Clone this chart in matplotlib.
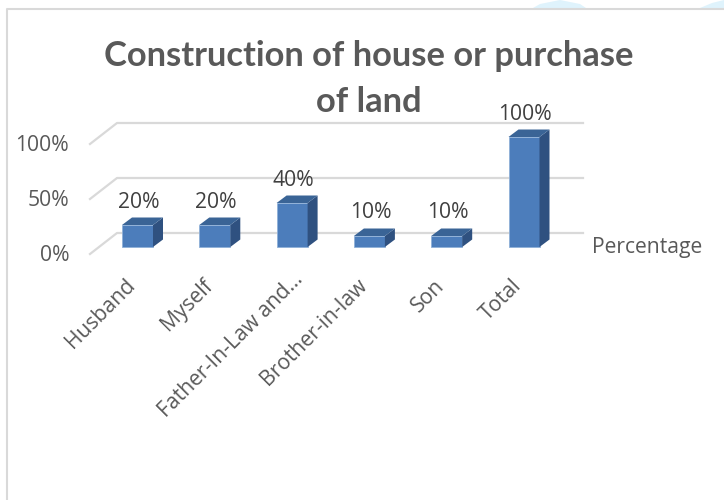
import matplotlib
matplotlib.use('Agg')
import matplotlib.pyplot as plt
import numpy as np

categories = ['Husband', 'Myself', 'Father-In-Law and…', 'Brother-in-law', 'Son', 'Total']
values = [20, 20, 40, 10, 10, 100]
y_ticks = [0, 50, 100]
series_name = 'Percentage'
title_lines = ['Construction of house or purchase', 'of land']

plt.rcParams['font.family'] = ['Open Sans', 'DejaVu Sans']

W, H = 724, 500
X0, STEP = 137.5, 77.3     # pixel x of first bar centre, pixels per category
Y0, SCALE = 247.0, 1.1     # pixel y of the 0% bar base, pixels per percent
FS = 15.2

fig = plt.figure(figsize=(W / 100, H / 100), dpi=100)
ax = fig.add_axes([0, 0, 1, 1])
ax.set_xlim(-X0 / STEP, (W - X0) / STEP)
ax.set_ylim((Y0 - H) / SCALE, Y0 / SCALE)
ax.axis('off')


def dx(px):
    return px / STEP


def dy(px):
    return px / SCALE


def px(x_pixel, y_pixel):
    return (x_pixel - X0) / STEP, (Y0 - y_pixel) / SCALE


# page frame and the bit of background showing above it
for xs, ys in [([533, 586, 580, 570, 560, 540], [8, 8, 4, 2, 0, 4]),
               ([700, 724, 724, 712], [8, 8, 0, 3])]:
    pts = [px(a, b) for a, b in zip(xs, ys)]
    ax.fill(*zip(*pts), color='#dff3fc', lw=0)
ax.plot(*zip(px(7, H), px(7, 9), px(W, 9)), color='#d9d9d9', lw=1.5)

# walls: gridlines with the diagonal on the floor side
back_dx, back_dy = dx(27), dy(21)
front_x = px(90, 0)[0]
front_off = dy(7)
right_x = px(583, 0)[0]
for t in y_ticks:
    y_front = t - front_off
    ax.plot([front_x, front_x + back_dx, right_x],
            [y_front, y_front + back_dy, y_front + back_dy],
            color='#d9d9d9', lw=1.6, zorder=1)
    ax.text(px(69, 0)[0], y_front - dy(1.5), f'{t}%', ha='right', va='center',
            fontsize=FS, color='#595959')

# bars
bar_w = 31 / STEP
depth_x, depth_y = dx(10), dy(7.5)
x = np.arange(len(values))
ax.bar(x, values, width=bar_w, color='#4c7dbb', edgecolor='#8fb0d8', lw=0.6, zorder=3)
for xi, v in zip(x, values):
    l, r = xi - bar_w / 2, xi + bar_w / 2
    ax.fill([r, r + depth_x, r + depth_x, r], [0, depth_y, v + depth_y, v],
            color='#2f5180', lw=0, zorder=3)
    ax.fill([l, l + depth_x, r + depth_x, r], [v, v + depth_y, v + depth_y, v],
            color='#3a6496', lw=0, zorder=3)
    ax.text(xi + dx(1), v + dy(23), f'{v}%', ha='center', va='center',
            fontsize=FS, color='#404040', zorder=4)

# category labels, the truncated one sits further along its slope
for xi, c in zip(x, categories):
    sx, sy = (13, 6) if c.endswith('…') else (0, 0)
    ax.text(xi + dx(-13 + sx), -dy(28 - sy), c, rotation=45, rotation_mode='anchor',
            ha='right', va='top', fontsize=FS, color='#595959')

ax.text(*px(592, 248), series_name, ha='left', va='center', fontsize=FS, color='#595959')
for line, y_line in zip(title_lines, [56, 102]):
    ax.text(*px(369, y_line), line, ha='center', va='center', fontsize=24.8,
            fontweight='bold', family=['Lato', 'DejaVu Sans'], color='#595959')

fig.savefig('out.png', dpi=100)
